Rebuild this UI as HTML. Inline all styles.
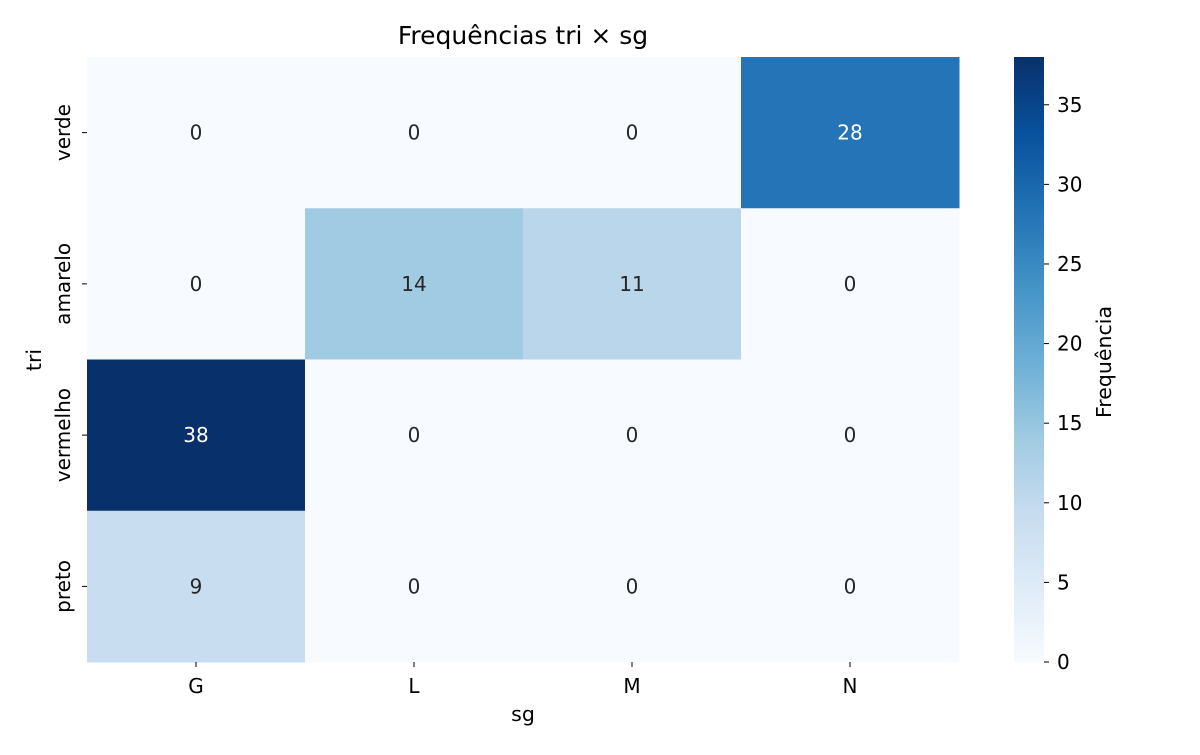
<!DOCTYPE html>
<html><head><meta charset="utf-8"><style>
body{margin:0;background:#fff;}
svg text{font-family:"DejaVu Sans","Liberation Sans",sans-serif;}
</style></head><body>
<svg id="chart" width="1200" height="750" xmlns="http://www.w3.org/2000/svg">
<defs><linearGradient id="cb" x1="0" y1="1" x2="0" y2="0">
<stop offset="0" stop-color="#f7fbff"/><stop offset="0.125" stop-color="#deebf7"/><stop offset="0.25" stop-color="#c6dbef"/><stop offset="0.375" stop-color="#9ecae1"/><stop offset="0.5" stop-color="#6baed6"/><stop offset="0.625" stop-color="#4292c6"/><stop offset="0.75" stop-color="#2171b5"/><stop offset="0.875" stop-color="#08519c"/><stop offset="1" stop-color="#08306b"/></linearGradient></defs>
<text x="523" y="44" font-size="25" text-anchor="middle">Frequências tri × sg</text>
<text x="523" y="721" font-size="20.5" text-anchor="middle">sg</text>
<text x="0" y="0" font-size="20.5" text-anchor="middle" transform="translate(41,360) rotate(-90)">tri</text>
<rect x="1014" y="57" width="30" height="605" fill="url(#cb)"/>
<text x="0" y="0" font-size="20.5" text-anchor="middle" transform="translate(1111,362) rotate(-90)">Frequência</text>
<g id="g"></g>
</svg>
<script>
const cols=["G","L","M","N"];
const rows=["verde","amarelo","vermelho","preto"];
const values=[[0,0,0,28],[0,14,11,0],[38,0,0,0],[9,0,0,0]];
const cbTicks=[0,5,10,15,20,25,30,35];
const vmax=38;
const L=87,R=959,T=57,B=662;
const cw=(R-L)/cols.length, rh=(B-T)/rows.length;
const stops=["#f7fbff","#deebf7","#c6dbef","#9ecae1","#6baed6","#4292c6","#2171b5","#08519c","#08306b"].map(h=>[1,3,5].map(i=>parseInt(h.substr(i,2),16)));
function color(v){let t=Math.max(0,Math.min(1,v/vmax))*8;let i=Math.min(7,Math.floor(t)),f=t-i;const c=stops[i].map((a,k)=>Math.round(a+(stops[i+1][k]-a)*f));return `rgb(${c})`;}
const g=document.getElementById('g');const NS="http://www.w3.org/2000/svg";
function mk(tag,attrs,txt){const e=document.createElementNS(NS,tag);for(const k in attrs)e.setAttribute(k,attrs[k]);if(txt!==undefined)e.textContent=txt;g.appendChild(e);return e;}
rows.forEach((r,i)=>cols.forEach((c,j)=>{const v=values[i][j];
const rc=mk('rect',{x:L+j*cw,y:T+i*rh,width:cw+0.5,height:rh+0.5,fill:color(v)});


const t=mk('text',{x:L+(j+.5)*cw,y:T+(i+.5)*rh+7,'font-size':20,'text-anchor':'middle',fill:v/vmax>0.6?'#fff':'#262626'},v);


}));
cols.forEach((c,j)=>{const x=L+(j+.5)*cw;mk('line',{x1:x,x2:x,y1:B,y2:B+5,stroke:'#000'});
const t=mk('text',{x:x,y:B+31,'font-size':20,'text-anchor':'middle'},c);

});
rows.forEach((r,i)=>{const y=T+(i+.5)*rh;mk('line',{x1:L-5,x2:L,y1:y,y2:y,stroke:'#000'});
const t=mk('text',{x:0,y:0,'font-size':20,'text-anchor':'middle',transform:`translate(${L-17},${y}) rotate(-90)`},r);

});
cbTicks.forEach(v=>{const y=B-(v/vmax)*(B-T);mk('line',{x1:1044,x2:1049,y1:y,y2:y,stroke:'#000'});
const t=mk('text',{x:1057,y:y+7,'font-size':20},v);

});
</script>
</body></html>
